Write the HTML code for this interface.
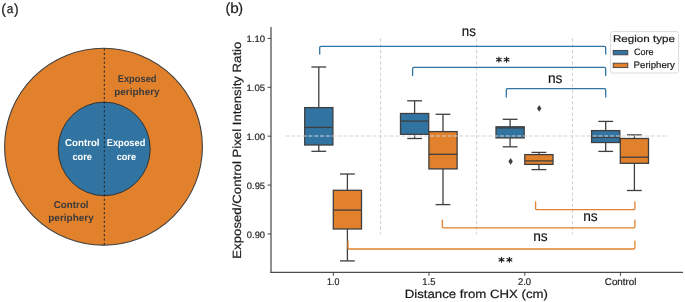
<!DOCTYPE html>
<html><head><meta charset="utf-8"><style>
html,body{margin:0;padding:0;background:#fff;}
svg{display:block;will-change:transform;text-rendering:geometricPrecision;font-family:"Liberation Sans", sans-serif;font-kerning:none;}
</style></head><body>
<svg width="685" height="302" viewBox="0 0 685 302">
<rect width="685" height="302" fill="#fff"/>
<text x="1.31" y="13.80" font-size="14.6" font-weight="normal" fill="#1a1a1a" textLength="4.77" lengthAdjust="spacingAndGlyphs" stroke="#1a1a1a" stroke-width="0.2">(</text>
<text x="6.80" y="13.30" font-size="13.0" font-weight="normal" fill="#1a1a1a" textLength="6.60" lengthAdjust="spacingAndGlyphs" stroke="#1a1a1a" stroke-width="0.2">a</text>
<text x="13.92" y="13.80" font-size="14.6" font-weight="normal" fill="#1a1a1a" textLength="4.65" lengthAdjust="spacingAndGlyphs" stroke="#1a1a1a" stroke-width="0.2">)</text>
<ellipse cx="103.5" cy="146.7" rx="98.9" ry="98.4" fill="#e1812c" stroke="#404040" stroke-width="1.1"/>
<ellipse cx="104.2" cy="148.9" rx="46.0" ry="46.8" fill="#3274a1" stroke="#333" stroke-width="1"/>
<line x1="104.3" y1="48.4" x2="104.3" y2="245.2" stroke="#222" stroke-width="1" stroke-dasharray="2.2 2.22"/>
<text x="117.68" y="81.60" font-size="9.9" font-weight="bold" fill="#3a3a3a" textLength="38.84" lengthAdjust="spacingAndGlyphs">Exposed</text>
<text x="114.24" y="95.20" font-size="9.9" font-weight="bold" fill="#3a3a3a" textLength="45.41" lengthAdjust="spacingAndGlyphs">periphery</text>
<text x="65.10" y="146.20" font-size="9.9" font-weight="bold" fill="#fff" textLength="34.48" lengthAdjust="spacingAndGlyphs">Control</text>
<text x="72.44" y="159.60" font-size="9.9" font-weight="bold" fill="#fff" textLength="19.48" lengthAdjust="spacingAndGlyphs">core</text>
<text x="106.78" y="146.00" font-size="9.9" font-weight="bold" fill="#fff" textLength="38.53" lengthAdjust="spacingAndGlyphs">Exposed</text>
<text x="116.64" y="159.60" font-size="9.9" font-weight="bold" fill="#fff" textLength="19.37" lengthAdjust="spacingAndGlyphs">core</text>
<text x="53.80" y="207.90" font-size="9.9" font-weight="bold" fill="#3a3a3a" textLength="34.79" lengthAdjust="spacingAndGlyphs">Control</text>
<text x="48.24" y="221.30" font-size="9.9" font-weight="bold" fill="#3a3a3a" textLength="45.51" lengthAdjust="spacingAndGlyphs">periphery</text>
<text x="225.51" y="12.60" font-size="14.6" font-weight="normal" fill="#1a1a1a" textLength="4.77" lengthAdjust="spacingAndGlyphs" stroke="#1a1a1a" stroke-width="0.2">(</text>
<text x="230.31" y="13.30" font-size="14.6" font-weight="normal" fill="#1a1a1a" textLength="8.53" lengthAdjust="spacingAndGlyphs" stroke="#1a1a1a" stroke-width="0.2">b</text>
<text x="238.32" y="12.60" font-size="14.6" font-weight="normal" fill="#1a1a1a" textLength="4.77" lengthAdjust="spacingAndGlyphs" stroke="#1a1a1a" stroke-width="0.2">)</text>
<line x1="380.6" y1="38.41" x2="380.6" y2="233.95" stroke="#cfcfcf" stroke-width="1" stroke-dasharray="3.4 2.3"/>
<line x1="476.6" y1="38.41" x2="476.6" y2="233.95" stroke="#cfcfcf" stroke-width="1" stroke-dasharray="3.4 2.3"/>
<line x1="572.5" y1="38.41" x2="572.5" y2="233.95" stroke="#cfcfcf" stroke-width="1" stroke-dasharray="3.4 2.3"/>
<line x1="318.8" y1="67.0" x2="318.8" y2="107.6" stroke="#3f3f3f" stroke-width="1.3"/>
<line x1="318.8" y1="145.0" x2="318.8" y2="151.3" stroke="#3f3f3f" stroke-width="1.3"/>
<line x1="311.40" y1="67.0" x2="326.20" y2="67.0" stroke="#3f3f3f" stroke-width="1.3"/>
<line x1="311.40" y1="151.3" x2="326.20" y2="151.3" stroke="#3f3f3f" stroke-width="1.3"/>
<rect x="304.70" y="107.6" width="28.2" height="37.40" fill="#3274a1" stroke="#3f3f3f" stroke-width="1.3"/>
<line x1="304.70" y1="127.4" x2="332.90" y2="127.4" stroke="#3f3f3f" stroke-width="1.3"/>
<line x1="347.4" y1="174.0" x2="347.4" y2="190.3" stroke="#3f3f3f" stroke-width="1.3"/>
<line x1="347.4" y1="229.0" x2="347.4" y2="260.9" stroke="#3f3f3f" stroke-width="1.3"/>
<line x1="340.00" y1="174.0" x2="354.80" y2="174.0" stroke="#3f3f3f" stroke-width="1.3"/>
<line x1="340.00" y1="260.9" x2="354.80" y2="260.9" stroke="#3f3f3f" stroke-width="1.3"/>
<rect x="333.30" y="190.3" width="28.2" height="38.70" fill="#e1812c" stroke="#3f3f3f" stroke-width="1.3"/>
<line x1="333.30" y1="210.1" x2="361.50" y2="210.1" stroke="#3f3f3f" stroke-width="1.3"/>
<line x1="414.6" y1="100.8" x2="414.6" y2="113.5" stroke="#3f3f3f" stroke-width="1.3"/>
<line x1="414.6" y1="134.3" x2="414.6" y2="138.5" stroke="#3f3f3f" stroke-width="1.3"/>
<line x1="407.20" y1="100.8" x2="422.00" y2="100.8" stroke="#3f3f3f" stroke-width="1.3"/>
<line x1="407.20" y1="138.5" x2="422.00" y2="138.5" stroke="#3f3f3f" stroke-width="1.3"/>
<rect x="400.50" y="113.5" width="28.2" height="20.80" fill="#3274a1" stroke="#3f3f3f" stroke-width="1.3"/>
<line x1="400.50" y1="121.1" x2="428.70" y2="121.1" stroke="#3f3f3f" stroke-width="1.3"/>
<line x1="443.0" y1="114.3" x2="443.0" y2="131.6" stroke="#3f3f3f" stroke-width="1.3"/>
<line x1="443.0" y1="168.9" x2="443.0" y2="204.6" stroke="#3f3f3f" stroke-width="1.3"/>
<line x1="435.60" y1="114.3" x2="450.40" y2="114.3" stroke="#3f3f3f" stroke-width="1.3"/>
<line x1="435.60" y1="204.6" x2="450.40" y2="204.6" stroke="#3f3f3f" stroke-width="1.3"/>
<rect x="428.90" y="131.6" width="28.2" height="37.30" fill="#e1812c" stroke="#3f3f3f" stroke-width="1.3"/>
<line x1="428.90" y1="154.3" x2="457.10" y2="154.3" stroke="#3f3f3f" stroke-width="1.3"/>
<line x1="510.1" y1="119.3" x2="510.1" y2="126.8" stroke="#3f3f3f" stroke-width="1.3"/>
<line x1="510.1" y1="137.9" x2="510.1" y2="146.8" stroke="#3f3f3f" stroke-width="1.3"/>
<line x1="502.70" y1="119.3" x2="517.50" y2="119.3" stroke="#3f3f3f" stroke-width="1.3"/>
<line x1="502.70" y1="146.8" x2="517.50" y2="146.8" stroke="#3f3f3f" stroke-width="1.3"/>
<rect x="496.00" y="126.8" width="28.2" height="11.10" fill="#3274a1" stroke="#3f3f3f" stroke-width="1.3"/>
<line x1="496.00" y1="127.9" x2="524.20" y2="127.9" stroke="#3f3f3f" stroke-width="1.3"/>
<line x1="538.9" y1="152.4" x2="538.9" y2="154.6" stroke="#3f3f3f" stroke-width="1.3"/>
<line x1="538.9" y1="164.4" x2="538.9" y2="169.6" stroke="#3f3f3f" stroke-width="1.3"/>
<line x1="531.50" y1="152.4" x2="546.30" y2="152.4" stroke="#3f3f3f" stroke-width="1.3"/>
<line x1="531.50" y1="169.6" x2="546.30" y2="169.6" stroke="#3f3f3f" stroke-width="1.3"/>
<rect x="524.80" y="154.6" width="28.2" height="9.80" fill="#e1812c" stroke="#3f3f3f" stroke-width="1.3"/>
<line x1="524.80" y1="160.9" x2="553.00" y2="160.9" stroke="#3f3f3f" stroke-width="1.3"/>
<line x1="605.7" y1="121.4" x2="605.7" y2="130.6" stroke="#3f3f3f" stroke-width="1.3"/>
<line x1="605.7" y1="142.5" x2="605.7" y2="151.4" stroke="#3f3f3f" stroke-width="1.3"/>
<line x1="598.30" y1="121.4" x2="613.10" y2="121.4" stroke="#3f3f3f" stroke-width="1.3"/>
<line x1="598.30" y1="151.4" x2="613.10" y2="151.4" stroke="#3f3f3f" stroke-width="1.3"/>
<rect x="591.60" y="130.6" width="28.2" height="11.90" fill="#3274a1" stroke="#3f3f3f" stroke-width="1.3"/>
<line x1="591.60" y1="137.5" x2="619.80" y2="137.5" stroke="#3f3f3f" stroke-width="1.3"/>
<line x1="634.4" y1="134.9" x2="634.4" y2="138.5" stroke="#3f3f3f" stroke-width="1.3"/>
<line x1="634.4" y1="163.3" x2="634.4" y2="190.5" stroke="#3f3f3f" stroke-width="1.3"/>
<line x1="627.00" y1="134.9" x2="641.80" y2="134.9" stroke="#3f3f3f" stroke-width="1.3"/>
<line x1="627.00" y1="190.5" x2="641.80" y2="190.5" stroke="#3f3f3f" stroke-width="1.3"/>
<rect x="620.30" y="138.5" width="28.2" height="24.80" fill="#e1812c" stroke="#3f3f3f" stroke-width="1.3"/>
<line x1="620.30" y1="157.2" x2="648.50" y2="157.2" stroke="#3f3f3f" stroke-width="1.3"/>
<path d="M539.2 105.10000000000001 L541.4000000000001 108.4 L539.2 111.7 L537.0 108.4 Z" fill="#3f3f3f"/>
<path d="M510.6 158.1 L512.8000000000001 161.4 L510.6 164.70000000000002 L508.40000000000003 161.4 Z" fill="#3f3f3f"/>
<line x1="285.3" y1="136.0" x2="668.5" y2="136.0" stroke="#d6d6d6" stroke-width="1.2" stroke-dasharray="4 1.8"/>
<path d="M319.7 54.099999999999994 L319.7 47.599999999999994 Q319.7 46.3 321.0 46.3 L604.4000000000001 46.3 Q605.7 46.3 605.7 47.599999999999994 L605.7 54.099999999999994" fill="none" stroke="#3274a1" stroke-width="1.3" stroke-linecap="round"/>
<path d="M412.6 75.4 L412.6 68.7 Q412.6 67.4 413.90000000000003 67.4 L604.4000000000001 67.4 Q605.7 67.4 605.7 68.7 L605.7 75.4" fill="none" stroke="#3274a1" stroke-width="1.3" stroke-linecap="round"/>
<path d="M506.3 96.89999999999999 L506.3 89.89999999999999 Q506.3 88.6 507.6 88.6 L604.4000000000001 88.6 Q605.7 88.6 605.7 89.89999999999999 L605.7 96.89999999999999" fill="none" stroke="#3274a1" stroke-width="1.3" stroke-linecap="round"/>
<path d="M535.6 201.89999999999998 L535.6 208.39999999999998 Q535.6 209.7 536.9 209.7 L633.6 209.7 Q634.9 209.7 634.9 208.39999999999998 L634.9 201.89999999999998" fill="none" stroke="#e1812c" stroke-width="1.3" stroke-linecap="round"/>
<path d="M442.3 220.1 L442.3 226.6 Q442.3 227.9 443.6 227.9 L633.6 227.9 Q634.9 227.9 634.9 226.6 L634.9 220.1" fill="none" stroke="#e1812c" stroke-width="1.3" stroke-linecap="round"/>
<path d="M348.0 241.2 L348.0 247.7 Q348.0 249.0 349.3 249.0 L633.6 249.0 Q634.9 249.0 634.9 247.7 L634.9 241.2" fill="none" stroke="#e1812c" stroke-width="1.3" stroke-linecap="round"/>
<text x="461.82" y="35.80" font-size="14.5" font-weight="normal" fill="#111" textLength="14.07" lengthAdjust="spacingAndGlyphs" stroke="#111" stroke-width="0.15">ns</text>
<text x="547.99" y="82.50" font-size="14.5" font-weight="normal" fill="#111" textLength="14.51" lengthAdjust="spacingAndGlyphs" stroke="#111" stroke-width="0.15">ns</text>
<text x="583.19" y="221.00" font-size="14.5" font-weight="normal" fill="#111" textLength="14.51" lengthAdjust="spacingAndGlyphs" stroke="#111" stroke-width="0.15">ns</text>
<text x="533.19" y="241.20" font-size="14.5" font-weight="normal" fill="#111" textLength="14.51" lengthAdjust="spacingAndGlyphs" stroke="#111" stroke-width="0.15">ns</text>
<path d="M498.90 62.05 L498.90 57.15 M496.47 60.89 L501.33 58.31 M496.47 58.31 L501.33 60.89 " stroke="#1e1e1e" stroke-width="1.15" stroke-linecap="round" fill="none"/>
<path d="M506.60 62.05 L506.60 57.15 M504.17 60.89 L509.03 58.31 M504.17 58.31 L509.03 60.89 " stroke="#1e1e1e" stroke-width="1.15" stroke-linecap="round" fill="none"/>
<path d="M501.50 262.25 L501.50 257.35 M499.07 261.09 L503.93 258.51 M499.07 258.51 L503.93 261.09 " stroke="#1e1e1e" stroke-width="1.15" stroke-linecap="round" fill="none"/>
<path d="M509.40 262.25 L509.40 257.35 M506.97 261.09 L511.83 258.51 M506.97 258.51 L511.83 261.09 " stroke="#1e1e1e" stroke-width="1.15" stroke-linecap="round" fill="none"/>
<line x1="271.0" y1="27" x2="271.0" y2="272.9" stroke="#333" stroke-width="1.1"/>
<line x1="270.45" y1="272.4" x2="683" y2="272.4" stroke="#4c4c4c" stroke-width="1.15"/>
<line x1="267.6" y1="38.41" x2="271.0" y2="38.41" stroke="#333" stroke-width="0.9"/>
<text x="246.47" y="42.01" font-size="9.2" font-weight="normal" fill="#262626" textLength="18.60" lengthAdjust="spacingAndGlyphs" stroke="#262626" stroke-width="0.2">1.10</text>
<line x1="267.6" y1="87.29" x2="271.0" y2="87.29" stroke="#333" stroke-width="0.9"/>
<text x="246.47" y="90.89" font-size="9.2" font-weight="normal" fill="#262626" textLength="18.63" lengthAdjust="spacingAndGlyphs" stroke="#262626" stroke-width="0.2">1.05</text>
<line x1="267.6" y1="136.18" x2="271.0" y2="136.18" stroke="#333" stroke-width="0.9"/>
<text x="246.47" y="139.78" font-size="9.2" font-weight="normal" fill="#262626" textLength="18.60" lengthAdjust="spacingAndGlyphs" stroke="#262626" stroke-width="0.2">1.00</text>
<line x1="267.6" y1="185.07" x2="271.0" y2="185.07" stroke="#333" stroke-width="0.9"/>
<text x="246.83" y="188.67" font-size="9.2" font-weight="normal" fill="#262626" textLength="18.26" lengthAdjust="spacingAndGlyphs" stroke="#262626" stroke-width="0.2">0.95</text>
<line x1="267.6" y1="233.95" x2="271.0" y2="233.95" stroke="#333" stroke-width="0.9"/>
<text x="246.83" y="237.55" font-size="9.2" font-weight="normal" fill="#262626" textLength="18.23" lengthAdjust="spacingAndGlyphs" stroke="#262626" stroke-width="0.2">0.90</text>
<line x1="333.3" y1="272.4" x2="333.3" y2="275.8" stroke="#333" stroke-width="0.9"/>
<text x="327.02" y="285.00" font-size="9.8" font-weight="normal" fill="#262626" textLength="12.32" lengthAdjust="spacingAndGlyphs" stroke="#262626" stroke-width="0.2">1.0</text>
<line x1="429.0" y1="272.4" x2="429.0" y2="275.8" stroke="#333" stroke-width="0.9"/>
<text x="422.28" y="285.00" font-size="9.8" font-weight="normal" fill="#262626" textLength="13.11" lengthAdjust="spacingAndGlyphs" stroke="#262626" stroke-width="0.2">1.5</text>
<line x1="524.8" y1="272.4" x2="524.8" y2="275.8" stroke="#333" stroke-width="0.9"/>
<text x="517.92" y="285.00" font-size="9.8" font-weight="normal" fill="#262626" textLength="13.14" lengthAdjust="spacingAndGlyphs" stroke="#262626" stroke-width="0.2">2.0</text>
<line x1="620.4" y1="272.4" x2="620.4" y2="275.8" stroke="#333" stroke-width="0.9"/>
<text x="604.80" y="285.00" font-size="9.8" font-weight="normal" fill="#262626" textLength="31.66" lengthAdjust="spacingAndGlyphs" stroke="#262626" stroke-width="0.2">Control</text>
<text x="404.72" y="298.00" font-size="11.9" font-weight="normal" fill="#1a1a1a" textLength="143.20" lengthAdjust="spacingAndGlyphs" stroke="#1a1a1a" stroke-width="0.2">Distance from CHX (cm)</text>
<text transform="translate(240.6 257.6) rotate(-90)" x="-1.08" y="0" font-size="11.9" fill="#1a1a1a" stroke="#1a1a1a" stroke-width="0.2" textLength="217.04" lengthAdjust="spacingAndGlyphs">Exposed/Control Pixel Intensity Ratio</text>
<rect x="610.6" y="31.6" width="68" height="41.4" rx="2.2" fill="#fff" fill-opacity="0.85" stroke="#dcdcdc" stroke-width="1"/>
<text x="612.95" y="42.00" font-size="9.8" font-weight="normal" fill="#1a1a1a" textLength="61.97" lengthAdjust="spacingAndGlyphs" stroke="#1a1a1a" stroke-width="0.2">Region type</text>
<rect x="613.2" y="50.4" width="14.6" height="4.4" fill="#3274a1" stroke="#3f3f3f" stroke-width="0.9"/>
<rect x="613.2" y="63.2" width="14.6" height="4.4" fill="#e1812c" stroke="#3f3f3f" stroke-width="0.9"/>
<text x="633.94" y="54.50" font-size="9.3" font-weight="normal" fill="#1a1a1a" textLength="19.56" lengthAdjust="spacingAndGlyphs" stroke="#1a1a1a" stroke-width="0.2">Core</text>
<text x="633.61" y="68.00" font-size="9.3" font-weight="normal" fill="#1a1a1a" textLength="41.21" lengthAdjust="spacingAndGlyphs" stroke="#1a1a1a" stroke-width="0.2">Periphery</text>
</svg>
</body></html>
